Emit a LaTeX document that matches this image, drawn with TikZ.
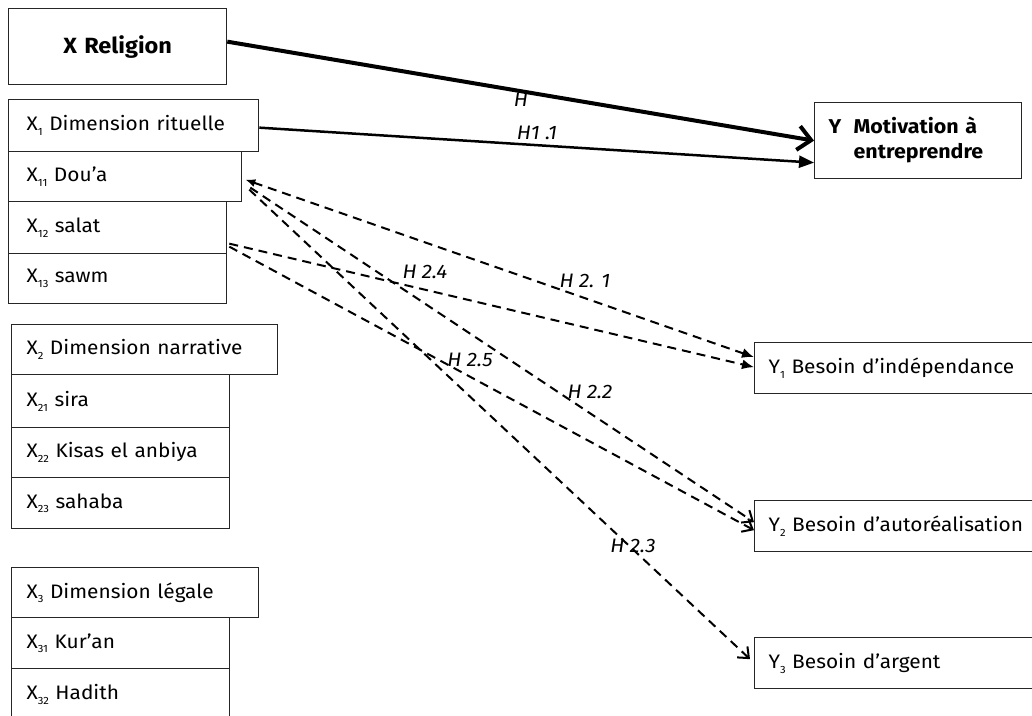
\documentclass[tikz,border=0pt]{standalone}
\usepackage{fontspec}
\setmainfont{Fira Sans}[FakeStretch=1.07]
\usetikzlibrary{arrows.meta,calc}
\newcommand{\sbx}[1]{\raisebox{-0.45ex}{\fontsize{10.5}{10.5}\selectfont #1}}
\tikzset{
  bx/.style={draw=black!85, line width=1.3pt, rectangle, anchor=north west,
    inner ysep=0pt, align=left, font=\fontsize{19.5}{23}\selectfont},
  lab/.style={font=\fontsize{19.5}{21}\selectfont\itshape, inner sep=0pt},
  dashedc/.style={line width=2pt, dash pattern=on 9pt off 6pt},
  filltip/.style={-{Latex[length=12pt,width=10pt]}},
  opentip/.style={-{Straight Barb[length=9pt,width=15pt,line width=2pt]}}
}
\begin{document}
\begin{tikzpicture}[x=1pt,y=-1pt]
\useasboundingbox (0,0) rectangle (1032,715);
\begin{scope}
\clip (0,0) rectangle (1032,715);
% left boxes
\node[bx, inner xsep=0pt, text width=218pt, align=center, minimum height=76pt,
  font=\fontsize{22}{26}\selectfont\bfseries] (xrel) at (8,8) {X Religion};
\node[bx, inner xsep=18pt, text width=214pt, minimum height=52pt] (x1) at (8,99) {X\sbx{1} Dimension rituelle};
\node[bx, inner xsep=18pt, text width=197pt, minimum height=50pt] (x11) at (8,151) {X\sbx{11} Dou’a};
\node[bx, inner xsep=18pt, text width=182pt, minimum height=52pt] (x12) at (8,201) {X\sbx{12} salat};
\node[bx, inner xsep=18pt, text width=182pt, minimum height=50pt] (x13) at (8,253) {X\sbx{13} sawm};
\node[bx, inner xsep=15pt, text width=236pt, minimum height=50pt] (x2) at (11,324) {X\sbx{2} Dimension narrative};
\node[bx, inner xsep=15pt, text width=188pt, minimum height=53pt] (x21) at (11,374) {X\sbx{21} sira};
\node[bx, inner xsep=15pt, text width=188pt, minimum height=50pt] (x22) at (11,427) {X\sbx{22} Kisas el anbiya};
\node[bx, inner xsep=15pt, text width=188pt, minimum height=51pt] (x23) at (11,477) {X\sbx{23} sahaba};
\node[bx, inner xsep=15pt, text width=217pt, minimum height=50pt] (x3) at (11,567) {X\sbx{3} Dimension légale};
\node[bx, inner xsep=15pt, text width=188pt, minimum height=51pt] (x31) at (11,617) {X\sbx{31} Kur’an};
\node[bx, inner xsep=15pt, text width=188pt, minimum height=52pt] (x32) at (11,668) {X\sbx{32} Hadith};
% right boxes
\node[bx, inner xsep=14pt, text width=179pt, minimum height=76pt,
  font=\fontsize{20}{25}\selectfont\bfseries] (y) at (814,102)
  {\begin{tabular}{@{}p{25pt}@{}l@{}}Y & Motivation à\\ & entreprendre\end{tabular}};
\node[bx, inner xsep=14pt, text width=272pt, minimum height=51pt] (y1) at (754,342) {Y\sbx{1} Besoin d’indépendance};
\node[bx, inner xsep=14pt, text width=272pt, minimum height=51pt] (y2) at (754,500) {Y\sbx{2} Besoin d’autoréalisation};
\node[bx, inner xsep=14pt, text width=272pt, minimum height=51pt] (y3) at (754,637) {Y\sbx{3} Besoin d’argent};
% labels
\node[lab] (lh) at (521,100) {H};
\node[lab] (lh11) at (537,133) {H1 .1};
\node[lab] (lh21) at (585,281) {H 2. 1};
\node[lab] (lh24) at (425,272) {H 2.4};
\node[lab] (lh25) at (470,360) {H 2.5};
\node[lab] (lh22) at (590,392) {H 2.2};
\node[lab] (lh23) at (633,546) {H 2.3};
% connectors
\draw[line width=4pt, -{Straight Barb[length=13pt,width=24pt,line width=4pt]}]
  ([yshift=5pt]xrel.east) -- (y.west);
\draw[line width=2.5pt, -{Triangle[length=15pt,width=12pt]}]
  ([yshift=-2pt]x1.east) -- ([yshift=-22pt]y.west);
\draw[dashedc, {Latex[length=10pt,width=8pt]}-{Latex[length=12pt,width=10pt]}]
  ([shift={(3pt,-3pt)}]x11.east) -- ([yshift=11pt]y1.west);
\draw[dashedc, filltip] ([shift={(2pt,-16pt)}]x12.east) -- ([yshift=1pt]y1.west);
\draw[dashedc, opentip] ([shift={(8pt,-11pt)}]x11.east) -- ([yshift=4pt]y2.west);
\draw[dashedc, opentip] ([shift={(2pt,-19pt)}]x12.east) -- ([yshift=-4pt]y2.west);
\draw[dashedc, opentip] ([shift={(7pt,-13pt)}]x11.east) -- ([shift={(-4pt,4pt)}]y3.west);
\end{scope}
\end{tikzpicture}
\end{document}
